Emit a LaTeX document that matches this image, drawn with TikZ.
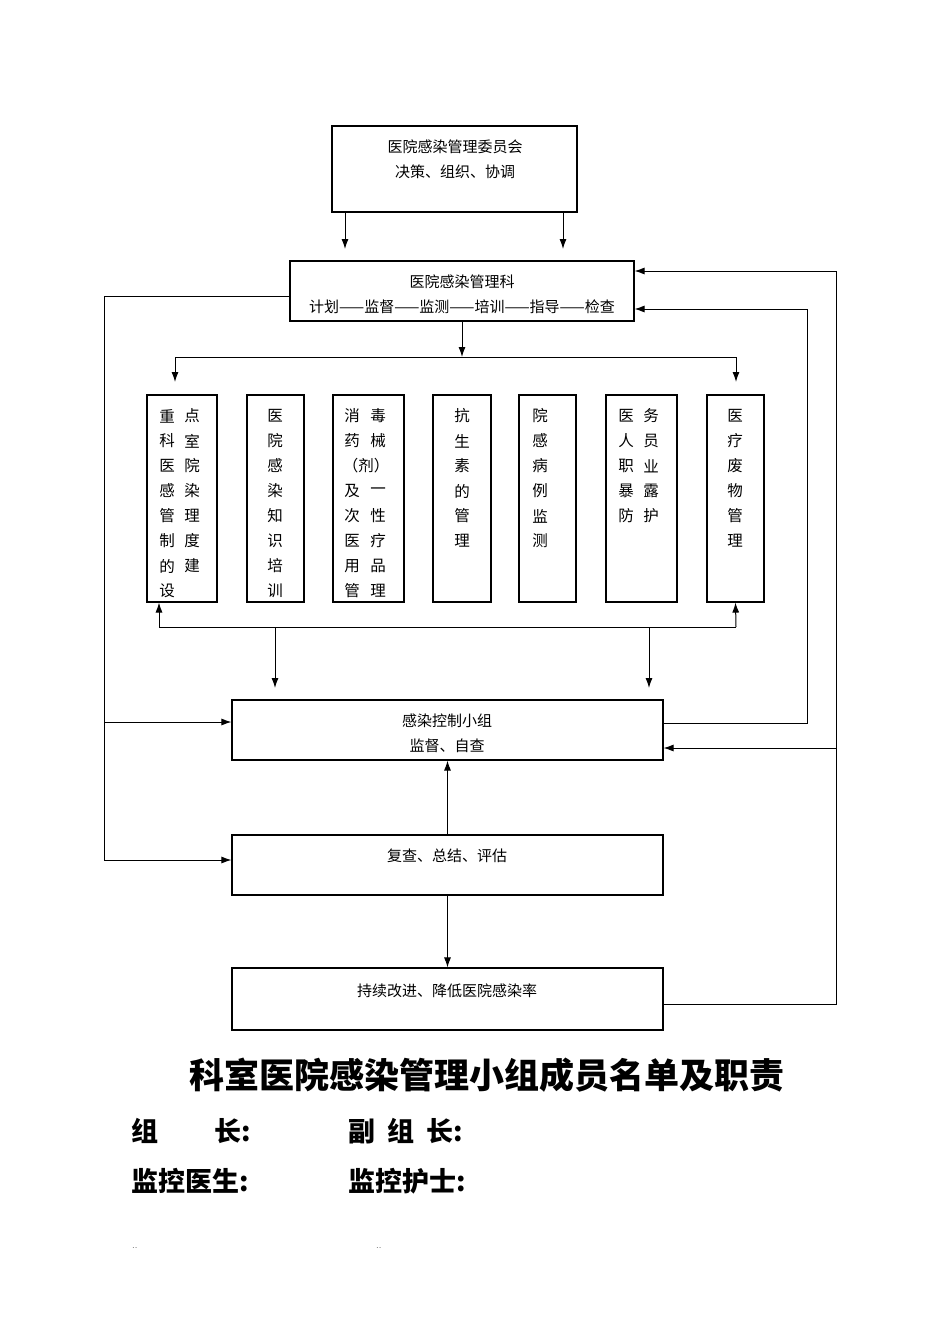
\documentclass[tikz,border=0pt]{standalone}
\usepackage{fontspec}
\newfontfamily\cjk{Noto Sans CJK SC}
\usetikzlibrary{arrows.meta}
\begin{document}
\begin{tikzpicture}[x=1pt,y=-1pt,
 box/.style={draw,line width=1.1pt,inner sep=0pt},
 t/.style={font=\cjk\fontsize{15}{25}\selectfont,align=center,inner sep=0pt},
 ch/.style={font=\cjk\fontsize{15.5}{25}\selectfont,inner sep=0pt},
 ar/.style={line width=1pt,-{Latex[length=10pt,width=7pt]}},
 ln/.style={line width=1pt}]
\useasboundingbox (0,0) rectangle (950,1344);
\newcommand{\bx}[5]{\node[box,minimum width=#4-#2,minimum height=#5-#3] (#1) at ({(#2+#4)/2},{(#3+#5)/2}) {};}
\newcommand{\vcol}[3]{\foreach \c [count=\i] in {#3} \node[ch] at (#1,{#2+25*(\i-1)}) {\c};}
\bx{top}{332}{126}{577}{212}
\bx{mgr}{290}{261}{634}{321}
\bx{c1}{147}{395}{217}{602}
\bx{c2}{247}{395}{304}{602}
\bx{c3}{333}{395}{404}{602}
\bx{c4}{433}{395}{491}{602}
\bx{c5}{519}{395}{576}{602}
\bx{c6}{606}{395}{677}{602}
\bx{c7}{707}{395}{764}{602}
\bx{ctl}{232}{700}{663}{760}
\bx{rev}{232}{835}{663}{895}
\bx{imp}{232}{968}{663}{1030}
\node[t] at (455,159) {医院感染管理委员会\\决策、组织、协调};
\node[t] at (462,294) {医院感染管理科\\计划——监督——监测——培训——指导——检查};
\node[t] at (447,733) {感染控制小组\\监督、自查};
\node[t] at (447,856) {复查、总结、评估};
\node[t] at (447,991) {持续改进、降低医院感染率};
% columns
\vcol{167}{416}{重,科,医,感,管,制,的,设}
\vcol{192}{416}{点,室,院,染,理,度,建}
\vcol{275}{416}{医,院,感,染,知,识,培,训}
\vcol{352}{416}{消,药}
\vcol{378}{416}{毒,械}
\node[ch] at (366,466) {（剂）};
\vcol{352}{491}{及,次,医,用,管}
\vcol{378}{491}{一,性,疗,品,理}
\vcol{462}{416}{抗,生,素,的,管,理}
\vcol{540}{416}{院,感,病,例,监,测}
\vcol{626}{416}{医,人,职,暴,防}
\vcol{651}{416}{务,员,业,露,护}
\vcol{735}{416}{医,疗,废,物,管,理}
% connectors
\draw[ar] (345,212) -- (345,249);
\draw[ar] (563,212) -- (563,249);
\draw[ar] (462,321) -- (462,357);
\draw[ln] (175,357) -- (736,357);
\draw[ar] (175,357) -- (175,382);
\draw[ar] (736,357) -- (736,382);
\draw[ln] (159,627) -- (736,627);
\draw[ar] (159,627) -- (c1.south -| 159,0);
\draw[ar] (736,627) -- (c7.south);
\draw[ar] (275,627) -- (275,688);
\draw[ar] (649,627) -- (649,688);
\draw[ar] (rev.north) -- (ctl.south);
\draw[ar] (rev.south) -- (imp.north);
\draw[ln] (mgr.west |- 0,296) -- (104,296) -- (104,860);
\draw[ar] (104,722) -- (ctl.west |- 0,722);
\draw[ar] (104,860) -- (rev.west |- 0,860);
\draw[ar] (ctl.east |- 0,723) -- (807,723) -- (807,309) -- (mgr.east |- 0,309);
\draw[ar] (imp.east |- 0,1004) -- (836,1004) -- (836,271) -- (mgr.east |- 0,271);
\draw[ar] (836,748) -- (ctl.east |- 0,748);
% title and list
\node[font=\cjk\bfseries\fontsize{35}{38}\selectfont] at (487,1075) {科室医院感染管理小组成员名单及职责};
\begin{scope}[every node/.style={anchor=west,inner sep=0pt,font=\cjk\bfseries\fontsize{27}{30}\selectfont}]
\node at (131,1131) {组\hspace{2.1em}长:};
\node at (348,1131) {副\hspace{0.45em}组\hspace{0.45em}长:};
\node at (131,1181) {监控医生:};
\node at (348,1181) {监控护士:};
\node[font=\fontsize{9}{9}\selectfont] at (132,1248) {..};
\node[font=\fontsize{9}{9}\selectfont] at (376,1248) {..};
\end{scope}
\end{tikzpicture}
\end{document}
